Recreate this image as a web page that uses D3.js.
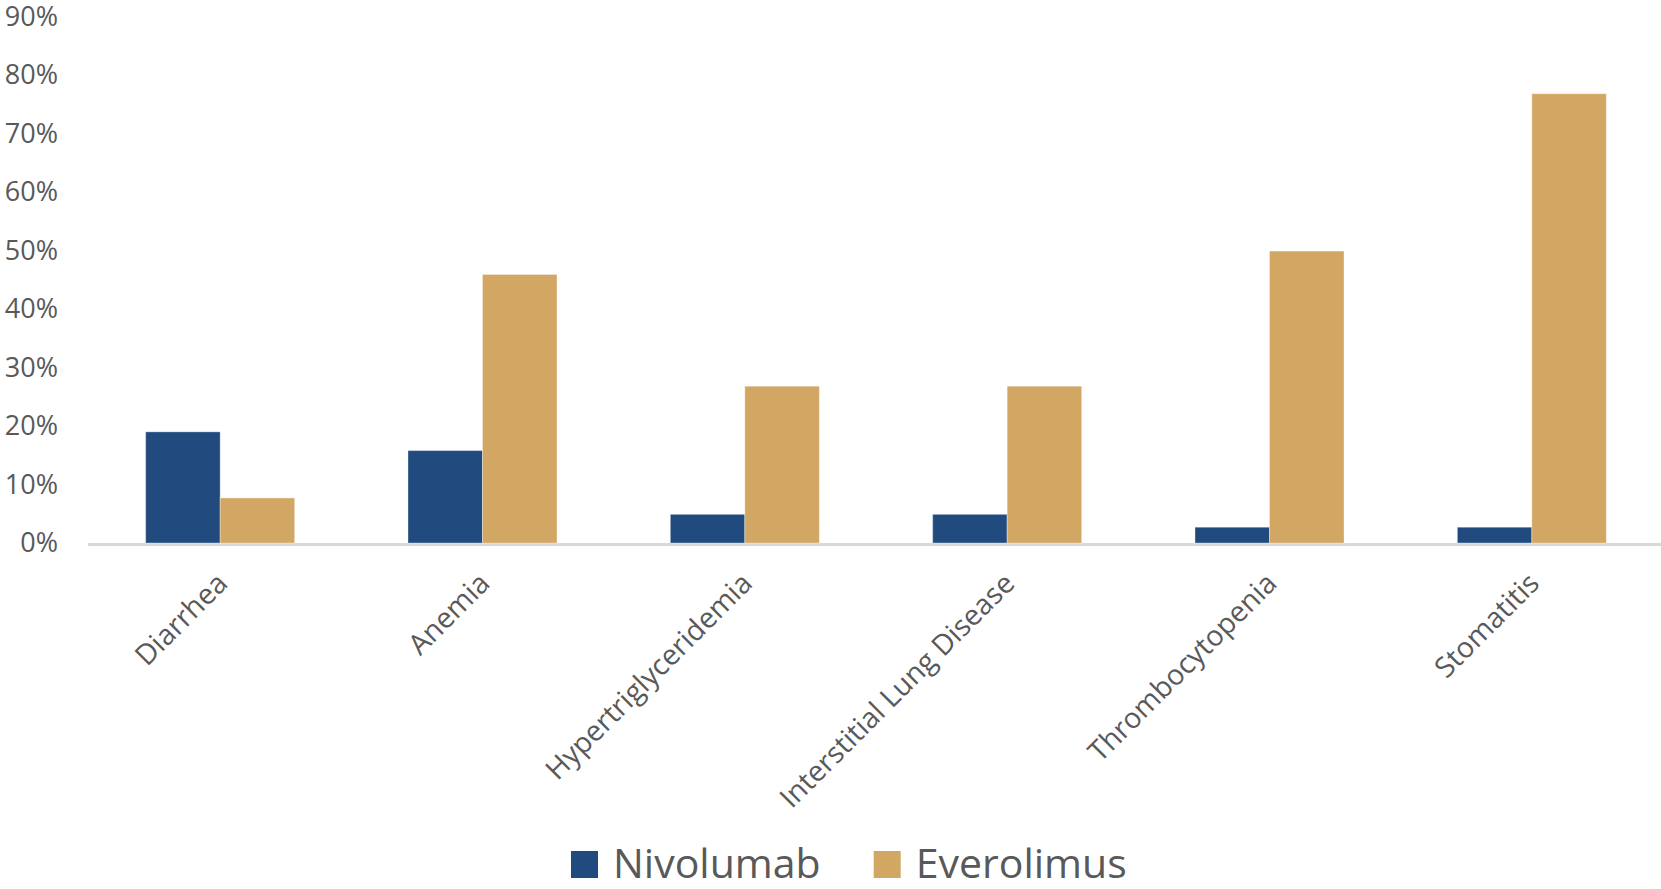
<!DOCTYPE html>
<html>
<head>
<meta charset="utf-8">
<script src="https://cdn.jsdelivr.net/npm/d3@7"></script>
<style>
  html, body { margin: 0; padding: 0; background: #fff; }
  svg { display: block; font-family: "Open Sans", "Noto Sans", sans-serif; }
</style>
</head>
<body>
<svg id="chart" width="1661" height="889"></svg>
<script>
// Adverse event incidence by treatment arm
const categories = ["Diarrhea", "Anemia", "Hypertriglyceridemia", "Interstitial Lung Disease", "Thrombocytopenia", "Stomatitis"];
const seriesNames = ["Nivolumab", "Everolimus"];
const nivolumab = [0.19, 0.158, 0.049, 0.049, 0.027, 0.027];
const everolimus = [0.077, 0.459, 0.268, 0.268, 0.499, 0.768];
const yTicks = [0, 0.1, 0.2, 0.3, 0.4, 0.5, 0.6, 0.7, 0.8, 0.9];
const colors = ["#214b7f", "#d2a663"];

const values = [nivolumab, everolimus];
const svg = d3.select("#chart");
const textColor = "#595959";

const x0 = d3.scaleBand()
  .domain(categories)
  .range([89, 1663])
  .paddingInner(0.432)
  .paddingOuter(0.216);

const x1 = d3.scaleBand()
  .domain(seriesNames)
  .range([0, x0.bandwidth()]);

const y = d3.scaleLinear().domain([0, 0.9]).range([543, 16.5]);

// y axis labels (no line, no ticks)
const yAxis = d3.axisLeft(y)
  .tickValues(yTicks)
  .tickFormat(d3.format(".0%"))
  .tickSize(0)
  .tickPadding(0);

const yg = svg.append("g")
  .attr("transform", "translate(58,0)")
  .call(yAxis);
yg.select(".domain").remove();
yg.selectAll("text")
  .attr("fill", textColor)
  .attr("font-size", 27)
  .attr("font-family", "'Open Sans', sans-serif");

// category axis baseline
svg.append("line")
  .attr("x1", 88).attr("x2", 1661)
  .attr("y1", y(0) + 1.5).attr("y2", y(0) + 1.5)
  .attr("stroke", "#d9d9d9")
  .attr("stroke-width", 3);

// bars
const groups = svg.append("g")
  .selectAll("g")
  .data(categories)
  .join("g")
  .attr("transform", d => `translate(${x0(d)},0)`);

groups.selectAll("rect")
  .data((d, i) => seriesNames.map((s, j) => ({ series: s, value: values[j][i], j })))
  .join("rect")
  .attr("x", d => x1(d.series))
  .attr("width", x1.bandwidth())
  .attr("y", d => y(d.value))
  .attr("height", d => y(0) - y(d.value))
  .attr("fill", d => colors[d.j])
  .attr("stroke", "#ffffff")
  .attr("stroke-opacity", 0.35)
  .attr("stroke-width", 1);

// rotated category labels
const xAxis = d3.axisBottom(x0).tickSize(0).tickPadding(0);
const xg = svg.append("g").call(xAxis);
xg.select(".domain").remove();
xg.selectAll(".tick").attr("transform", d => `translate(${x0(d) + x0.bandwidth() / 2 + 2},578)`);
xg.selectAll(".tick text")
  .attr("x", 0).attr("y", 0)
  .attr("dy", "0.35em")
  .attr("text-anchor", "end")
  .attr("transform", "rotate(-45)")
  .attr("fill", textColor)
  .attr("font-size", 28.5)
  .attr("font-family", "'Open Sans', sans-serif");

// legend
const legend = svg.append("g");
let lx = 571;
seriesNames.forEach((name, i) => {
  legend.append("rect")
    .attr("x", lx).attr("y", 851)
    .attr("width", 27).attr("height", 27)
    .attr("fill", colors[i]);
  const t = legend.append("text")
    .attr("x", lx + 42).attr("y", 878)
    .attr("fill", textColor)
    .attr("font-size", 41)
    .text(name);
  lx = lx + 42 + t.node().getComputedTextLength() + 53;
});
</script>
</body>
</html>
